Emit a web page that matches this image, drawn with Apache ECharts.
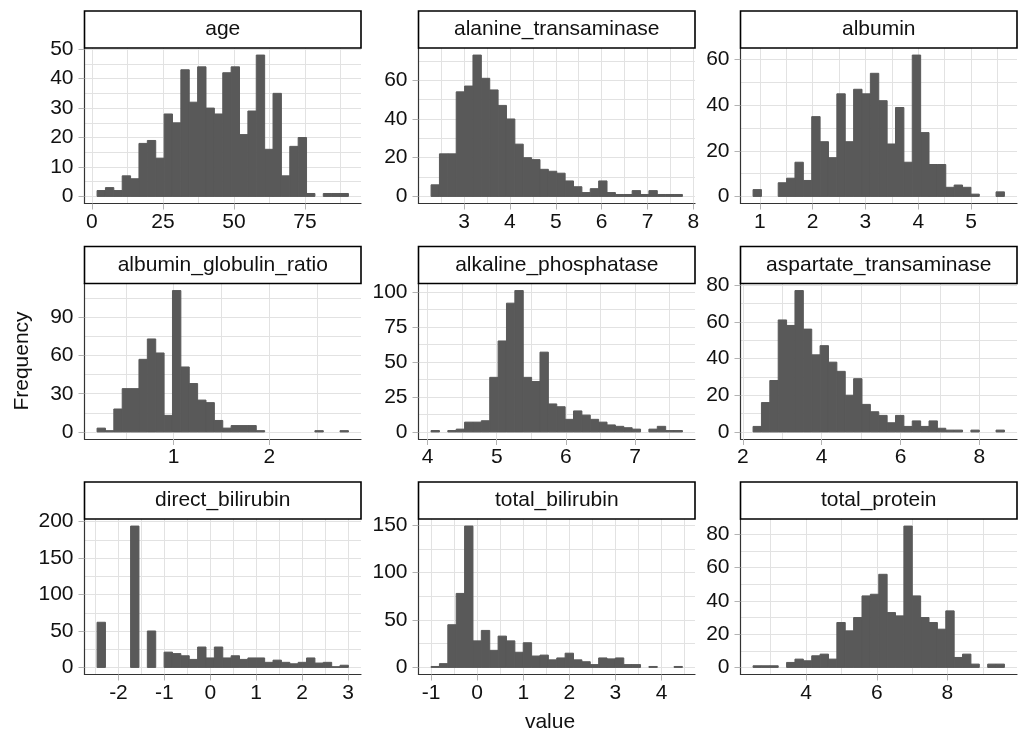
<!DOCTYPE html>
<html><head><meta charset="utf-8">
<script src="https://cdn.jsdelivr.net/npm/echarts@6/dist/echarts.min.js"></script>
<style>html,body{margin:0;padding:0;background:#fff}#c{width:1028px;height:740px}</style>
</head><body><div id="c"></div>
<script>
const panelNames = ['age','alanine_transaminase','albumin','albumin_globulin_ratio','alkaline_phosphatase','aspartate_transaminase','direct_bilirubin','total_bilirubin','total_protein'];
const binStarts = [1.8, 2.28, 0.873, 0.20, 4.05, 2.26, -2.466, -1.0, 2.50];
const binWidths = [2.95, 0.1827, 0.1586, 0.0876, 0.1212, 0.2125, 0.1825, 0.1818, 0.2371];

const ageCounts = [2,3,2,7,6,18,19,13,28,25,43,32,44,30,28,42,44,21,29,48,16,35,7,17,20,1,0,1,1,1];
const altCounts = [6,22,22,54,57,73,61,55,47,40,27,20,19,14,13,12,8,5,2,4,8,2,1,1,3,1,3,1,1,1];
const albuminCounts = [3,0,0,6,8,15,7,35,24,17,45,24,47,45,54,42,23,39,15,62,28,14,14,4,5,4,1,0,0,2];
const agRatioCounts = [3,1,18,34,34,57,73,62,13,111,51,38,25,23,9,3,5,5,5,1,0,0,0,0,0,0,1,0,0,1];
const alpCounts = [1,0,1,2,7,7,8,39,65,92,101,39,36,57,20,18,9,15,12,9,7,5,4,3,2,0,2,4,1,1];
const astCounts = [3,16,28,61,58,77,56,42,47,38,33,20,29,15,11,9,5,9,3,6,3,6,2,1,1,0,1,0,0,1];
const directBiliCounts = [62,0,0,0,194,0,50,0,21,19,16,11,28,13,28,13,16,11,13,13,7,10,7,5,7,13,6,7,1,3];
const totalBiliCounts = [1,4,45,78,149,28,39,18,33,28,16,26,12,13,8,10,15,8,6,3,10,9,10,3,3,0,1,0,0,1];
const totalProteinCounts = [1,1,1,0,3,5,4,7,8,5,27,22,30,43,44,56,33,31,85,43,30,27,23,34,6,8,2,0,2,2];
const countsByPanel = [ageCounts, altCounts, albuminCounts, agRatioCounts, alpCounts, astCounts, directBiliCounts, totalBiliCounts, totalProteinCounts];

const xMajorTicks = [[0,25,50,75],[3,4,5,6,7,8],[1,2,3,4,5],[1,2],[4,5,6,7],[2,4,6,8],[-2,-1,0,1,2,3],[-1,0,1,2,3,4],[4,6,8]];
const xMinorTicks = [[12.5,37.5,62.5,87.5],[2.5,3.5,4.5,5.5,6.5,7.5],[1.5,2.5,3.5,4.5,5.5],[0.5,1.5,2.5],[4.5,5.5,6.5,7.5],[3,5,7],[-2.5,-1.5,-0.5,0.5,1.5,2.5],[-0.5,0.5,1.5,2.5,3.5,4.5],[3,5,7,9]];
const yMajorTicks = [[0,10,20,30,40,50],[0,20,40,60],[0,20,40,60],[0,30,60,90],[0,25,50,75,100],[0,20,40,60,80],[0,50,100,150,200],[0,50,100,150],[0,20,40,60,80]];
const yMinorTicks = [[5,15,25,35,45],[10,30,50,70],[10,30,50],[15,45,75,105],[12.5,37.5,62.5,87.5],[10,30,50,70],[25,75,125,175],[25,75,125],[10,30,50,70]];

const xTitle = 'value';
const yTitle = 'Frequency';

// layout
const colLeft = [84.5, 418.5, 740.5];
const rowTop = [48, 283.5, 519];
const panelW = 276.5, panelH = 155.5, stripH = 37;
const FONT = 'Liberation Sans, Arial, sans-serif';
const gridCol = '#e2e2e2';
const barCol = '#595959';

const grids = [], xAxes = [], yAxes = [], series = [], graphics = [];
panelNames.forEach((name, i) => {
  const r = Math.floor(i / 3), c = i % 3;
  const left = colLeft[c], top = rowTop[r];
  grids.push({left: left, top: top, width: panelW, height: panelH});
  const lo = binStarts[i], w = binWidths[i], counts = countsByPanel[i];
  const hi = lo + counts.length * w, span = hi - lo;
  const xmin = lo - 0.05 * span, xmax = hi + 0.05 * span;
  const maxC = Math.max.apply(null, counts);
  const ymin = -0.05 * maxC, ymax = 1.05 * maxC;
  xAxes.push({
    gridIndex: i, type: 'value', min: xmin, max: xmax, position: 'bottom',
    axisLine: {show: true, onZero: false, lineStyle: {color: '#333', width: 1.2}},
    axisTick: {show: true, customValues: xMajorTicks[i], length: 6, lineStyle: {color: '#b3b3b3', width: 1}},
    axisLabel: {show: true, customValues: xMajorTicks[i], fontSize: 21, color: '#111', fontFamily: FONT, margin: 8},
    splitLine: {show: true, lineStyle: {color: gridCol, width: 1}}
  });
  xAxes.push({
    gridIndex: i, type: 'value', min: xmin, max: xmax, position: 'top',
    axisLine: {show: false}, axisTick: {show: false, customValues: xMinorTicks[i]},
    axisLabel: {show: false, customValues: xMinorTicks[i]},
    splitLine: {show: true, lineStyle: {color: gridCol, width: 1}}
  });
  yAxes.push({
    gridIndex: i, type: 'value', min: ymin, max: ymax, position: 'left',
    axisLine: {show: true, onZero: false, lineStyle: {color: '#333', width: 1.2}},
    axisTick: {show: true, customValues: yMajorTicks[i], length: 6, lineStyle: {color: '#b3b3b3', width: 1}},
    axisLabel: {show: true, customValues: yMajorTicks[i], fontSize: 21, color: '#111', fontFamily: FONT, margin: 11},
    splitLine: {show: true, lineStyle: {color: gridCol, width: 1}}
  });
  yAxes.push({
    gridIndex: i, type: 'value', min: ymin, max: ymax, position: 'right',
    axisLine: {show: false}, axisTick: {show: false, customValues: yMinorTicks[i]},
    axisLabel: {show: false, customValues: yMinorTicks[i]},
    splitLine: {show: true, lineStyle: {color: gridCol, width: 1}}
  });
  series.push({
    type: 'custom', xAxisIndex: 2 * i, yAxisIndex: 2 * i,
    data: counts.map((cnt, k) => [lo + k * w, lo + (k + 1) * w, cnt]),
    encode: {x: [0, 1], y: 2},
    renderItem: function (params, api) {
      if (api.value(2) <= 0) return null;
      const p0 = api.coord([api.value(0), 0]);
      const p1 = api.coord([api.value(1), api.value(2)]);
      return {type: 'rect', shape: {x: p0[0], y: p1[1], width: p1[0] - p0[0], height: p0[1] - p1[1]},
              style: {fill: barCol, stroke: barCol, lineWidth: 1}};
    },
    silent: true, animation: false
  });
  graphics.push({
    type: 'rect', shape: {x: left, y: top - stripH, width: panelW, height: stripH},
    style: {fill: '#fff', stroke: '#000', lineWidth: 1.6}, z: 10
  });
  graphics.push({
    type: 'text', x: left + panelW / 2, y: top - stripH / 2,
    style: {text: name, font: '21px ' + FONT, fill: '#111', align: 'center', verticalAlign: 'middle'}, z: 11
  });
});
graphics.push({type: 'text', x: 550, y: 722, style: {text: xTitle, font: '21px ' + FONT, fill: '#111', align: 'center', verticalAlign: 'middle'}});
graphics.push({type: 'text', x: 22, y: 361, rotation: Math.PI / 2, style: {text: yTitle, font: '21px ' + FONT, fill: '#111', align: 'center', verticalAlign: 'middle'}});

const chart = echarts.init(document.getElementById('c'), null, {renderer: 'canvas'});
chart.setOption({
  animation: false,
  backgroundColor: '#fff',
  grid: grids, xAxis: xAxes, yAxis: yAxes, series: series, graphic: graphics
});
</script></body></html>
